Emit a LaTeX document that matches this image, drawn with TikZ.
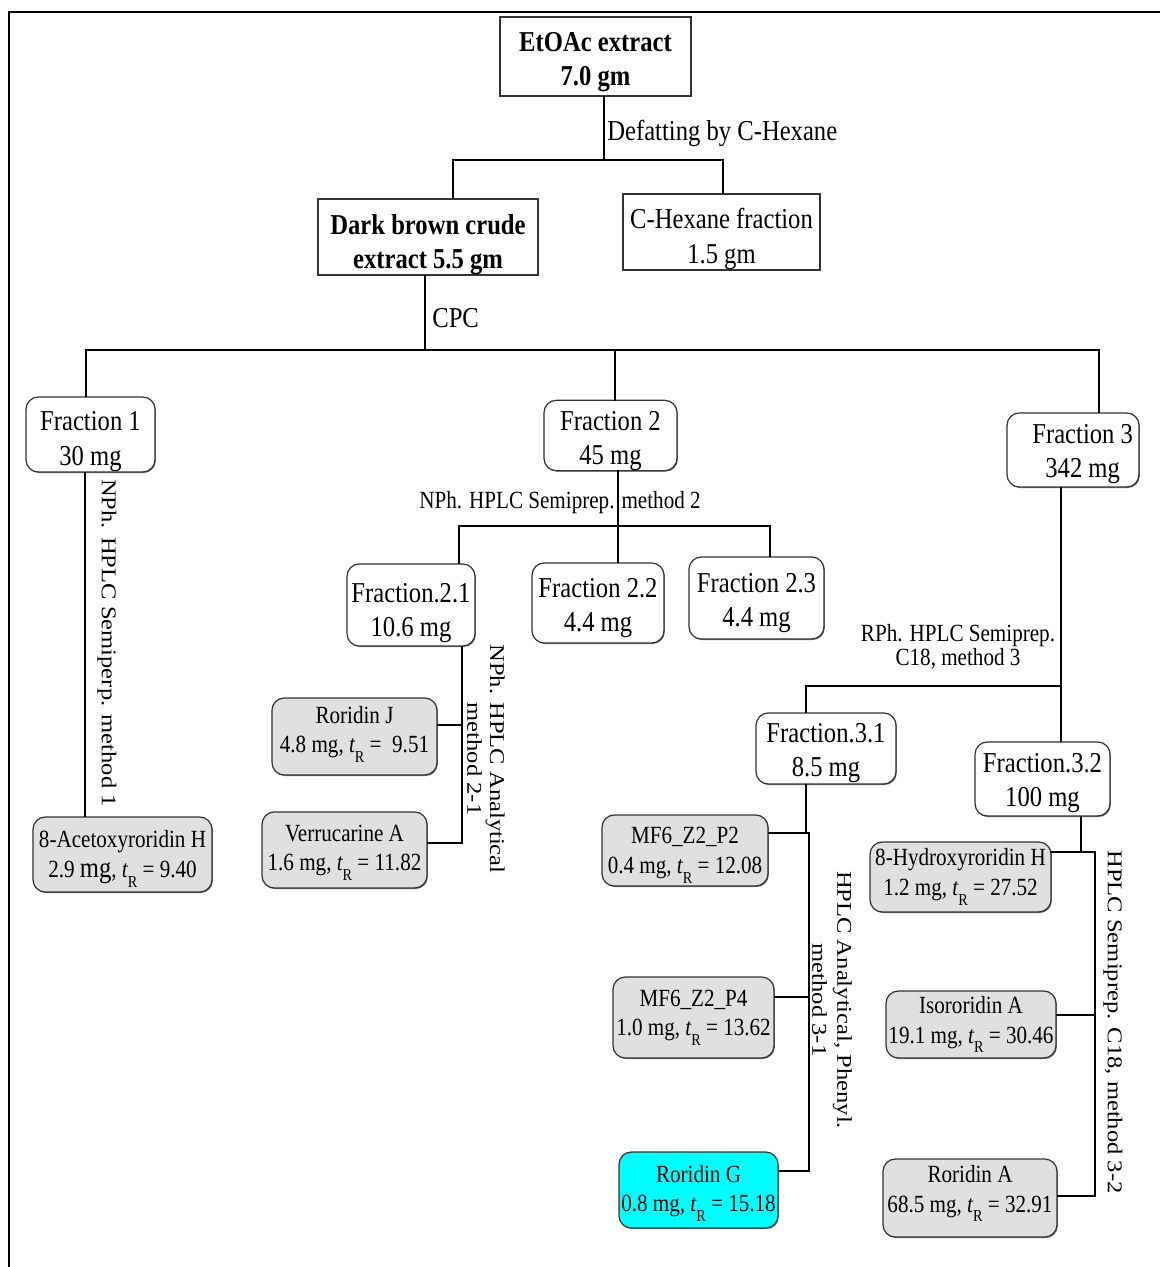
\documentclass[tikz,border=0pt]{standalone}
\usepackage{fontspec}
\usetikzlibrary{shadows}
\setmainfont{Liberation Serif}
% condensed face for horizontal text, extended face for the rotated method labels
\newfontfamily\flatserif[FakeStretch=0.855]{Liberation Serif}
\newfontfamily\tallserif[FakeStretch=1.17]{Liberation Serif}
\newcommand{\bigtxt}{\flatserif\fontsize{16.4}{19.5}\selectfont}
\newcommand{\smalltxt}{\flatserif\fontsize{14.05}{16.8}\selectfont}
\newcommand{\sidetxt}{\tallserif\fontsize{11.95}{13.5}\selectfont}
\newcommand{\tR}{{\itshape t}\raisebox{-5.5pt}{\flatserif\fontsize{9.5}{9.5}\selectfont R}}
% invisible struts that set the height of a first line / depth of a last line
\newcommand{\tallline}[1]{\rule{0pt}{#1}}
\newcommand{\deepline}[1]{\rule[-#1]{0pt}{#1}}

\definecolor{boxline}{HTML}{333333}
\definecolor{cmpgray}{HTML}{E0E0E0}
\definecolor{hit}{HTML}{00FFFF}

\begin{document}
\begin{tikzpicture}[x=0.02cm, y=-0.02cm,
  bx/.style 2 args={minimum width={#1*0.02cm}, minimum height={#2*0.02cm}},
  edge shade/.style={drop shadow={shadow xshift=0.5pt, shadow yshift=-0.6pt, fill=black!55, opacity=1}},
  plainbox/.style={draw=boxline, line width=0.7pt, inner sep=0pt, align=center, font=\bigtxt\bfseries, fill=white, edge shade},
  fracbox/.style={draw=boxline, line width=0.7pt, rounded corners=7pt, inner sep=0pt, align=center, font=\bigtxt, fill=white, edge shade},
  cmpbox/.style={fracbox, fill=cmpgray, font=\smalltxt},
  link/.style={line width=1.15pt, line cap=rect},
  sidelabel/.style={font=\sidetxt, rotate=-90, align=center, inner sep=0pt},
  flatlabel/.style={inner sep=0pt, align=center}
]
\useasboundingbox (0,0) rectangle (1160,1267);

% frame
\draw[line width=1.15pt] (1160,12) -- (9,12) -- (9,1267);

% ---- boxes ----
\node[plainbox, bx={191}{79}] (etoac) at (595.5,56.5) {\tallline{17pt}EtOAc extract\\7.0 gm};
\node[plainbox, bx={220}{76}] (dark) at (428,237) {\tallline{20pt}Dark brown crude\\extract 5.5 gm};
\node[plainbox, font=\bigtxt, bx={197}{76}] (chex) at (721.5,232) {\tallline{19.5pt}C-Hexane fraction\\1.5 gm};

\node[fracbox, bx={129}{75}] (f1) at (90.5,434.5) {\tallline{19pt}Fraction 1\\30 mg};
\node[fracbox, bx={133}{67}] (f2) at (610.5,435.5) {\tallline{17pt}Fraction 2\\45 mg};
\node[fracbox, bx={132}{74}] (f3) at (1073,450) {\hspace*{11pt}\tallline{15.5pt}Fraction 3\\\hspace*{11pt}342 mg};

\node[fracbox, bx={128}{82}] (f21) at (411,605) {\tallline{20pt}Fraction.2.1\\10.6 mg};
\node[fracbox, bx={132}{80}] (f22) at (598,603) {\tallline{16.3pt}Fraction 2.2\\4.4 mg};
\node[fracbox, bx={135}{82}] (f23) at (756.5,598) {\tallline{16.8pt}Fraction 2.3\\4.4 mg};

\node[fracbox, bx={140}{71}] (f31) at (826,748.5) {\tallline{16.3pt}Fraction.3.1\\8.5 mg};
\node[fracbox, bx={135}{74}] (f32) at (1042.5,779) {\tallline{15.8pt}Fraction.3.2\\100 mg};

\node[cmpbox, bx={179}{75}] (acet) at (122.5,854.5) {\tallline{14.7pt}8-Acetoxyroridin H\\2.9 {\bigtxt mg}, \tR{} = 9.40};
\node[cmpbox, bx={165}{77}] (rorJ) at (354.5,736.5) {Roridin J\\4.8 mg, \tR{} =~~9.51\deepline{8.3pt}};
\node[cmpbox, bx={165}{76}] (verr) at (344.5,850) {\tallline{12.4pt}Verrucarine A\\1.6 mg, \tR{} = 11.82};

\node[cmpbox, bx={166}{71}] (mf2) at (685,850.5) {\tallline{14.7pt}MF6\_Z2\_P2\\0.4 mg, \tR{} = 12.08};
\node[cmpbox, bx={161}{81}] (mf4) at (693.5,1017.5) {MF6\_Z2\_P4\\1.0 mg, \tR{} = 13.62};
\node[cmpbox, fill=hit, bx={159}{76}] (rorG) at (698.5,1190) {\tallline{13.6pt}Roridin G\\0.8 mg, \tR{} = 15.18};

\node[cmpbox, bx={181}{70}] (hydr) at (960.5,877) {8-Hydroxyroridin H\\1.2 mg, \tR{} = 27.52};
\node[cmpbox, bx={170}{67}] (isor) at (971,1024.5) {Isororidin A\\19.1 mg, \tR{} = 30.46};
\node[cmpbox, bx={174}{78}] (rorA) at (970,1198) {Roridin A\\68.5 mg, \tR{} = 32.91\deepline{10.6pt}};

% ---- junction points ----
\coordinate (j0) at (604,160);
\coordinate (j0l) at (453,160);
\coordinate (j0r) at (723,160);
\coordinate (j1) at (425,350);
\coordinate (j1l) at (86,350);
\coordinate (j1m) at (615,350);
\coordinate (j1r) at (1099,350);
\coordinate (k1) at (85,600);
\coordinate (j2) at (618,526);
\coordinate (j2l) at (459,526);
\coordinate (j2r) at (770,526);
\coordinate (b2a) at (462,725);
\coordinate (b2b) at (462,843);
\coordinate (j3) at (1061,686);
\coordinate (j3l) at (806,686);
\coordinate (b3s) at (806,833);
\coordinate (b3a) at (809,833);
\coordinate (b3b) at (809,997);
\coordinate (b3c) at (809,1171);
\coordinate (b4s) at (1081,852);
\coordinate (b4a) at (1095,852);
\coordinate (b4b) at (1095,1015);
\coordinate (b4c) at (1095,1196);

% ---- connectors ----
\draw[link] (etoac.south -| j0) -- (j0);
\draw[link] (j0l) -- (j0r);
\draw[link] (j0l) -- (dark.north -| j0l);
\draw[link] (j0r) -- (chex.north -| j0r);

\draw[link] (dark.south -| j1) -- (j1);
\draw[link] (j1l) -- (j1r);
\draw[link] (j1l) -- (f1.north -| j1l);
\draw[link] (j1m) -- (f2.north -| j1m);
\draw[link] (j1r) -- (f3.north -| j1r);

\draw[link] (f1.south -| k1) -- (acet.north -| k1);

\draw[link] (f2.south -| j2) -- (f22.north -| j2);
\draw[link] (j2l) -- (j2r);
\draw[link] (j2l) -- (f21.north -| j2l);
\draw[link] (j2r) -- (f23.north -| j2r);

\draw[link] (f21.south -| b2a) -- (b2b);
\draw[link] (rorJ.east |- b2a) -- (b2a);
\draw[link] (verr.east |- b2b) -- (b2b);

\draw[link] (f3.south -| j3) -- (f32.north -| j3);
\draw[link] (j3l) -- (j3);
\draw[link] (j3l) -- (f31.north -| j3l);

\draw[link] (f31.south -| b3s) -- (b3s);
\draw[link] (b3a) -- (b3c);
\draw[link] (mf2.east |- b3a) -- (b3a);
\draw[link] (mf4.east |- b3b) -- (b3b);
\draw[link] (rorG.east |- b3c) -- (b3c);

\draw[link] (f32.south -| b4s) -- (b4s);
\draw[link] (b4a) -- (b4c);
\draw[link] (hydr.east |- b4a) -- (b4a);
\draw[link] (isor.east |- b4b) -- (b4b);
\draw[link] (rorA.east |- b4c) -- (b4c);

% ---- method labels ----
\node[flatlabel, anchor=west, font=\bigtxt] (lbl0) at (607,133) {Defatting by C-Hexane};
\node[flatlabel, anchor=west, font=\bigtxt] (lbl1) at (432,318) {CPC};
\node[flatlabel, font=\smalltxt] (lbl2) at (560,503) {NPh. HPLC Semiprep. method 2};
\node[flatlabel, font=\flatserif\fontsize{14.05}{13.7}\selectfont] (lbl3) at (958,647) {RPh. HPLC Semiprep.\\C18, method 3};
\node[sidelabel] (lbl4) at (107,643) {NPh. HPLC Semiperp. method 1};
\node[sidelabel, font=\tallserif\fontsize{11.95}{13}\selectfont] (lbl5) at (486,759) {NPh. HPLC Analytical\\method 2-1};
\node[sidelabel, font=\tallserif\fontsize{11.95}{14.2}\selectfont] (lbl6) at (832,1000) {HPLC Analytical, Phenyl.\\method 3-1};
\node[sidelabel] (lbl7) at (1113,1022) {HPLC Semiprep. C18, method 3-2};
\end{tikzpicture}
\end{document}
